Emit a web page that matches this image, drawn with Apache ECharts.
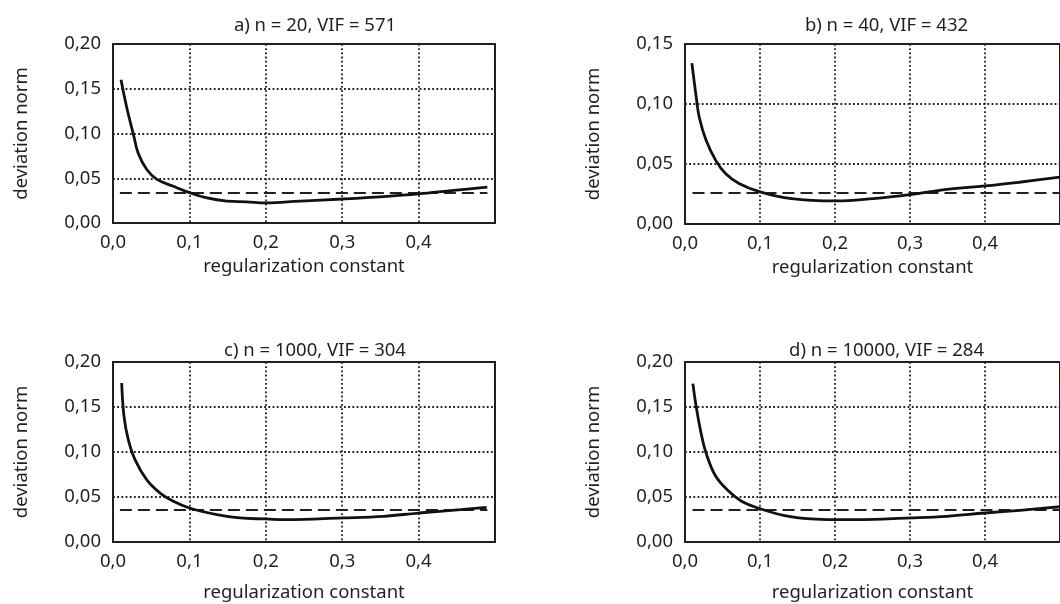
<!DOCTYPE html>
<html>
<head>
<meta charset="utf-8">
<script src="https://cdn.jsdelivr.net/npm/echarts@6/dist/echarts.min.js"></script>
<style>
html,body{margin:0;padding:0;background:#fff;}
#chart{width:1060px;height:604px;}
</style>
</head>
<body>
<div id="chart"></div>
<script>
// ---- data ----
const panelTitles = ['a) n = 20, VIF = 571', 'b) n = 40, VIF = 432', 'c) n = 1000, VIF = 304', 'd) n = 10000, VIF = 284'];
const xAxisName = 'regularization constant';
const yAxisName = 'deviation norm';
const xTicks = [0, 0.1, 0.2, 0.3, 0.4];
const yMaxes = [0.20, 0.15, 0.20, 0.20];

const xA = [0.0105, 0.018, 0.027, 0.033, 0.044, 0.057, 0.079, 0.100, 0.123, 0.149, 0.175, 0.200, 0.245, 0.300, 0.354, 0.400, 0.446, 0.490];
const yA = [0.160, 0.129, 0.098, 0.078, 0.060, 0.049, 0.041, 0.034, 0.028, 0.0245, 0.0237, 0.0225, 0.0245, 0.0268, 0.0295, 0.0325, 0.0365, 0.0400];

const xB = [0.0092, 0.0149, 0.019, 0.028, 0.041, 0.054, 0.072, 0.100, 0.142, 0.200, 0.251, 0.300, 0.349, 0.400, 0.448, 0.500];
const yB = [0.134, 0.106, 0.089, 0.070, 0.053, 0.042, 0.0337, 0.0267, 0.0211, 0.0192, 0.0212, 0.0245, 0.0289, 0.0317, 0.0350, 0.0390];

const xC = [0.0114, 0.0144, 0.020, 0.0288, 0.044, 0.0616, 0.079, 0.100, 0.136, 0.166, 0.200, 0.228, 0.300, 0.354, 0.400, 0.455, 0.489];
const yC = [0.1767, 0.1396, 0.1137, 0.0915, 0.0693, 0.0544, 0.0452, 0.0378, 0.0304, 0.0267, 0.0256, 0.0248, 0.0267, 0.0285, 0.0322, 0.0359, 0.0385];

const xD = [0.0105, 0.0148, 0.0214, 0.028, 0.041, 0.0585, 0.076, 0.100, 0.133, 0.168, 0.200, 0.229, 0.300, 0.349, 0.400, 0.447, 0.500];
const yD = [0.176, 0.151, 0.121, 0.099, 0.073, 0.0563, 0.045, 0.037, 0.0293, 0.0256, 0.0248, 0.0248, 0.0267, 0.0285, 0.0322, 0.0352, 0.0392];

const refLevels = [0.0335, 0.0258, 0.0356, 0.0356];
const refStart = [0.009, 0.010, 0.009, 0.010];
const refEnd = [0.490, 0.500, 0.490, 0.500];

const curvesX = [xA, xB, xC, xD];
const curvesY = [yA, yB, yC, yD];

// ---- layout ----
const grids = [
  {left: 113, top: 44, width: 382, height: 179},
  {left: 685, top: 44, width: 381, height: 180},
  {left: 113, top: 362, width: 382, height: 180},
  {left: 685, top: 362, width: 381, height: 180}
];
const titleTops = [11, 11, 336, 336];
const xNameGaps = [34, 34, 41, 41];

const FONT = 'Noto Sans';
const TXT = '#231f20';
const FS = 18.5;

const fmt1 = v => Math.abs(v - 0.5) < 1e-9 ? '' : v.toFixed(1).replace('.', ',');
const fmt2 = v => v.toFixed(2).replace('.', ',');

const gridDots = {color: '#231f20', width: 1.8, type: [1.8, 2.4]};

const option = {
  animation: false,
  backgroundColor: '#fff',
  title: panelTitles.map((t, i) => ({
    text: t,
    left: grids[i].left + grids[i].width / 2 + 6,
    top: titleTops[i],
    textAlign: 'center',
    textStyle: {fontFamily: FONT, fontSize: FS, fontWeight: 'normal', color: TXT}
  })),
  grid: grids.map(g => Object.assign({show: true, borderColor: '#231f20', borderWidth: 2, backgroundColor: 'transparent'}, g)),
  xAxis: grids.map((g, i) => ({
    type: 'value', gridIndex: i, min: 0, max: 0.5, interval: 0.1,
    name: xAxisName, nameLocation: 'middle', nameGap: xNameGaps[i],
    nameTextStyle: {fontFamily: FONT, fontSize: FS, color: TXT},
    axisLine: {show: false}, axisTick: {show: false},
    axisLabel: {fontFamily: FONT, fontSize: FS, color: TXT, margin: 10, formatter: fmt1, showMaxLabel: false},
    splitLine: {show: true, lineStyle: gridDots}
  })),
  yAxis: grids.map((g, i) => ({
    type: 'value', gridIndex: i, min: 0, max: yMaxes[i], interval: 0.05,
    name: yAxisName, nameLocation: 'middle', nameGap: 82, nameRotate: 90,
    nameTextStyle: {fontFamily: FONT, fontSize: FS, color: TXT},
    axisLine: {show: false}, axisTick: {show: false},
    axisLabel: {fontFamily: FONT, fontSize: FS, color: TXT, margin: 12, formatter: fmt2},
    splitLine: {show: true, lineStyle: gridDots}
  })),
  series: []
};

for (let i = 0; i < 4; i++) {
  option.series.push({
    type: 'line', xAxisIndex: i, yAxisIndex: i,
    data: [[refStart[i], refLevels[i]], [refEnd[i], refLevels[i]]],
    showSymbol: false, silent: true, z: 3,
    lineStyle: {color: '#231f20', width: 2, type: [12, 6]}
  });
  option.series.push({
    type: 'line', xAxisIndex: i, yAxisIndex: i,
    data: curvesX[i].map((x, k) => [x, curvesY[i][k]]),
    showSymbol: false, silent: true, z: 4,
    smooth: 0.4,
    lineStyle: {color: '#111', width: 2.8}
  });
}

const chart = echarts.init(document.getElementById('chart'), null, {renderer: 'canvas'});
chart.setOption(option);
</script>
</body>
</html>
